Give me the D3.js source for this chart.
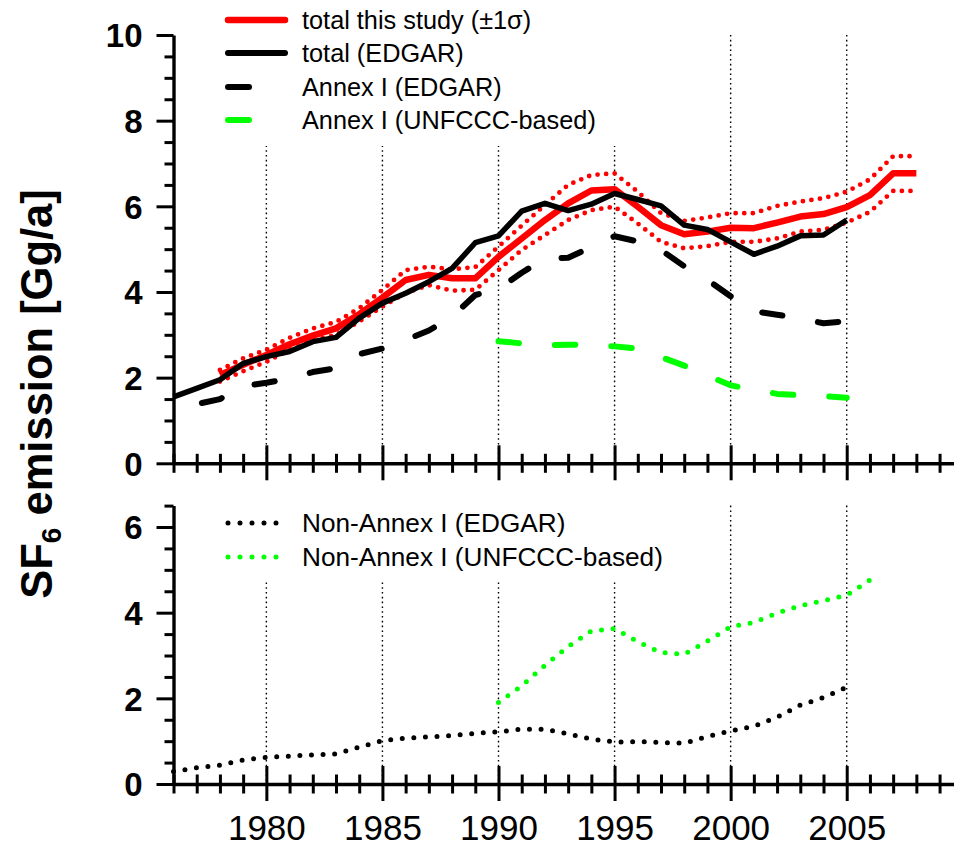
<!DOCTYPE html>
<html>
<head>
<meta charset="utf-8">
<script src="https://cdn.jsdelivr.net/npm/d3@7"></script>
<style>
  html, body { margin: 0; padding: 0; background: #fff; }
  svg { display: block; font-family: "Liberation Sans", Arial, sans-serif; }
</style>
</head>
<body>
<svg id="chart" width="959" height="848"></svg>
<script>
// ---- data: SF6 emissions (Gg/a) ----
const studyYears   = d3.range(1978, 2009);
const studyTotal   = [2.06, 2.30, 2.53, 2.78, 2.98, 3.15, 3.48, 3.87, 4.28, 4.40, 4.32, 4.32, 4.82, 5.25, 5.68, 6.07, 6.37, 6.40, 5.99, 5.56, 5.35, 5.41, 5.50, 5.49, 5.62, 5.76, 5.82, 5.98, 6.26, 6.77, 6.77];
const studyUpper   = [2.18, 2.45, 2.65, 2.93, 3.15, 3.30, 3.62, 4.05, 4.51, 4.59, 4.53, 4.58, 5.06, 5.55, 6.03, 6.50, 6.73, 6.77, 6.34, 5.84, 5.66, 5.74, 5.84, 5.84, 6.01, 6.11, 6.19, 6.34, 6.63, 7.17, 7.17];
const studyLower   = [1.91, 2.15, 2.37, 2.65, 2.86, 3.00, 3.31, 3.66, 3.98, 4.16, 4.03, 4.05, 4.51, 4.98, 5.33, 5.68, 5.91, 5.99, 5.60, 5.17, 5.02, 5.07, 5.17, 5.17, 5.25, 5.41, 5.45, 5.62, 5.87, 6.36, 6.36];

const edgarTotalYears = d3.range(1976, 2006);
const edgarTotal      = [1.55, 1.75, 1.95, 2.33, 2.49, 2.61, 2.84, 2.94, 3.39, 3.74, 3.97, 4.24, 4.55, 5.15, 5.31, 5.89, 6.07, 5.90, 6.05, 6.30, 6.16, 6.01, 5.56, 5.46, 5.17, 4.88, 5.07, 5.31, 5.33, 5.68];

const annexEdgarYears = d3.range(1977, 2006);
const annexEdgar      = [1.38, 1.50, 1.80, 1.88, 1.98, 2.13, 2.22, 2.55, 2.68, 2.88, 3.10, 3.42, 3.93, 4.07, 4.45, 4.78, 4.80, 5.05, 5.30, 5.18, 4.98, 4.60, 4.28, 3.90, 3.55, 3.47, 3.38, 3.27, 3.32];

const annexUnfcccYears = d3.range(1990, 2006);
const annexUnfccc      = [2.85, 2.80, 2.76, 2.77, 2.76, 2.73, 2.68, 2.48, 2.28, 2.05, 1.82, 1.72, 1.62, 1.59, 1.57, 1.53];

const nonAnnexEdgarYears = d3.range(1976, 2006);
const nonAnnexEdgar      = [0.29, 0.38, 0.44, 0.56, 0.62, 0.65, 0.68, 0.70, 0.86, 1.01, 1.07, 1.10, 1.13, 1.18, 1.22, 1.28, 1.28, 1.17, 1.05, 0.98, 0.99, 0.97, 0.95, 1.11, 1.24, 1.35, 1.56, 1.84, 2.02, 2.26];

const nonAnnexUnfcccYears = d3.range(1990, 2007);
const nonAnnexUnfccc      = [1.90, 2.29, 2.77, 3.21, 3.57, 3.63, 3.32, 3.07, 3.03, 3.34, 3.67, 3.77, 3.99, 4.16, 4.28, 4.41, 4.76];

const yearTicks   = d3.range(1976, 2010);
const gridYears   = [1980, 1985, 1990, 1995, 2000, 2005];
const topLegend   = ["total this study (\u00b11\u03c3)", "total (EDGAR)", "Annex I (EDGAR)", "Annex I (UNFCCC-based)"];
const botLegend   = ["Non-Annex I (EDGAR)", "Non-Annex I (UNFCCC-based)"];

// ---- layout ----
const svg = d3.select("#chart");
const x = d3.scaleLinear().domain([1976, 2009.6]).range([173.5, 953.5]);
const yTop = d3.scaleLinear().domain([0, 10]).range([463.3, 35]);
const yBot = d3.scaleLinear().domain([0, 6.5]).range([784, 505.6]);

const zip = (xs, ys) => xs.map((yr, i) => ({ year: yr, v: ys[i] }));

// dotted vertical grid lines
function grid(ys) {
  svg.append("g").selectAll("line").data(gridYears).join("line")
    .attr("x1", d => x(d)).attr("x2", d => x(d))
    .attr("y1", ys.range()[1]).attr("y2", ys.range()[0])
    .attr("stroke", "#000").attr("stroke-width", 1.4)
    .attr("stroke-dasharray", "1.6,3.2");
}
grid(yTop);
grid(yBot);

// legend backgrounds hide the grid behind the key
svg.append("rect").attr("x", 215).attr("y", 0).attr("width", 410).attr("height", 146).attr("fill", "#fff");
svg.append("rect").attr("x", 215).attr("y", 500).attr("width", 490).attr("height", 80).attr("fill", "#fff");

// series styles
const styles = {
  study:     { stroke: "#ff0000", width: 6.5, dash: null },
  band:      { stroke: "#ff0000", width: 4.8, dash: "0,8.6", cap: "round" },
  edgar:     { stroke: "#000", width: 5.5, dash: null },
  annexE:    { stroke: "#000", width: 6, dash: "20.5,36", cap: "round", offset: 51.2 },
  annexU:    { stroke: "#00ff00", width: 6, dash: "20.5,36", cap: "round", offset: 0 },
  nonE:      { stroke: "#000", width: 5, dash: "0,11.6", cap: "round" },
  nonU:      { stroke: "#00ff00", width: 5, dash: "0,11.6", cap: "round" }
};

function drawSeries(data, ys, st) {
  const line = d3.line().x(d => x(d.year)).y(d => ys(d.v));
  svg.append("path").datum(data).attr("d", line)
    .attr("fill", "none").attr("stroke", st.stroke).attr("stroke-width", st.width)
    .attr("stroke-linejoin", "round").attr("stroke-linecap", st.cap || "butt")
    .attr("stroke-dasharray", st.dash).attr("stroke-dashoffset", st.offset || 0);
}

// top panel
drawSeries(zip(annexUnfcccYears, annexUnfccc), yTop, styles.annexU);
drawSeries(zip(annexEdgarYears, annexEdgar), yTop, styles.annexE);
drawSeries(zip(studyYears, studyUpper), yTop, styles.band);
drawSeries(zip(studyYears, studyLower), yTop, styles.band);
drawSeries(zip(studyYears, studyTotal), yTop, styles.study);
drawSeries(zip(edgarTotalYears, edgarTotal), yTop, styles.edgar);

// bottom panel
drawSeries(zip(nonAnnexEdgarYears, nonAnnexEdgar), yBot, styles.nonE);
drawSeries(zip(nonAnnexUnfcccYears, nonAnnexUnfccc), yBot, styles.nonU);

// ---- axes ----
const AXW = 3.4;
function xAxis(y0, withLabels) {
  const g = svg.append("g").attr("transform", `translate(0,${y0})`)
    .call(d3.axisBottom(x).tickValues(yearTicks).tickSizeOuter(0)
      .tickFormat(d => (withLabels && d % 5 === 0 && d >= 1980 && d <= 2005) ? d : ""));
  g.select(".domain").attr("stroke", "#000").attr("stroke-width", AXW);
  g.selectAll(".tick line").attr("stroke", "#000").attr("stroke-width", 3)
    .attr("y1", d => d % 5 === 0 ? -18 : -9.5).attr("y2", d => d % 5 === 0 ? 17 : 9.5);
  g.selectAll(".tick text").attr("y", 56).attr("dy", null)
    .attr("font-size", 35).attr("font-family", "Liberation Sans, Arial, sans-serif").attr("fill", "#000");
}
function yAxis(ys, max) {
  const g = svg.append("g").attr("transform", `translate(${x(1976)},0)`)
    .call(d3.axisLeft(ys).tickValues(d3.range(0, max + 0.01, 0.5)).tickSizeOuter(0)
      .tickFormat(d => d % 2 === 0 ? d : ""));
  g.select(".domain").attr("stroke", "#000").attr("stroke-width", AXW);
  g.selectAll(".tick line").attr("stroke", "#000").attr("stroke-width", 3)
    .attr("x2", d => d % 2 === 0 ? -17 : -9);
  g.selectAll(".tick text").attr("x", -31).attr("dy", "0.36em")
    .attr("font-size", 33).attr("font-weight", "bold")
    .attr("font-family", "Liberation Sans, Arial, sans-serif").attr("fill", "#000");
}
xAxis(yTop(0), false);
xAxis(yBot(0), true);
yAxis(yTop, 10);
yAxis(yBot, 6.5);

// y-axis title with subscript
const title = svg.append("text")
  .attr("transform", "translate(52,394) rotate(-90)")
  .attr("text-anchor", "middle").attr("font-size", 43.5).attr("font-weight", "bold");
title.append("tspan").text("SF");
title.append("tspan").attr("font-size", 28).attr("dy", 9).text("6");
title.append("tspan").attr("dy", -9).text(" emission [Gg/a]");

// ---- legends ----
function legend(items, rows, sty, fs) {
  items.forEach((label, i) => {
    const yy = rows[i];
    const st = sty[i];
    svg.append("line").attr("x1", 228).attr("x2", 285).attr("y1", yy).attr("y2", yy)
      .attr("stroke", st.stroke).attr("stroke-width", st.width)
      .attr("stroke-linecap", st.cap || "round")
      .attr("stroke-dasharray", st.dash);
    svg.append("text").attr("x", 302).attr("y", yy).attr("dy", "0.35em")
      .attr("font-size", fs).attr("fill", "#000").text(label);
  });
}
legend(topLegend, [20, 53, 87, 120],
  [styles.study, { stroke: "#000", width: 6 }, { stroke: "#000", width: 6, dash: "21,36", cap: "round" },
   { stroke: "#00ff00", width: 6, dash: "21,36", cap: "round" }], 25.3);
legend(botLegend, [523, 557],
  [{ stroke: "#000", width: 5, dash: "0,12", cap: "round" }, { stroke: "#00ff00", width: 5, dash: "0,12", cap: "round" }], 26.2);
</script>
</body>
</html>
